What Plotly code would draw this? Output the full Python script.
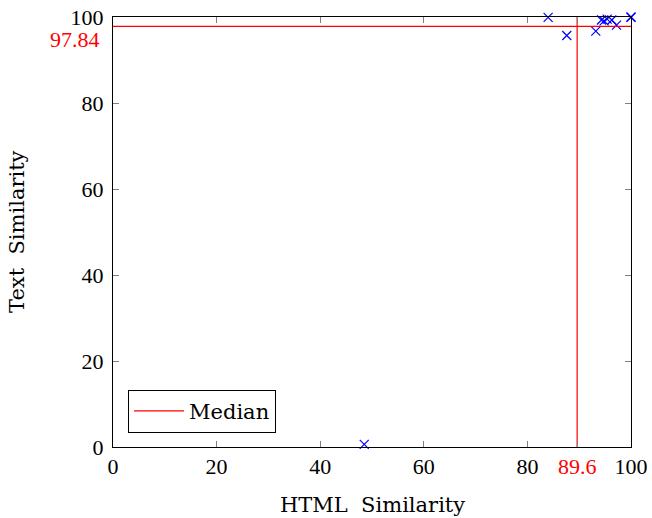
import plotly.graph_objects as go

html_similarity = [48.5, 84.0, 87.6, 93.2, 94.3, 94.8, 95.4, 96.3, 97.2, 100.0, 100.0]
text_similarity = [0.6, 99.9, 95.7, 96.7, 99.3, 99.1, 99.5, 99.3, 98.1, 100.0, 99.9]
median_html = 89.6
median_text = 97.84
tick_vals = [0, 20, 40, 60, 80, 100]

TICK_FONT = "Liberation Serif"
TEXT_FONT = "DejaVu Serif"
RED = "#ff0000"
BLUE = "#0000ff"

fig = go.Figure()
fig.add_trace(go.Scatter(
    x=html_similarity, y=text_similarity, mode="markers",
    marker=dict(symbol="x-thin", size=9, line=dict(width=1.2, color=BLUE), color=BLUE),
    showlegend=False, cliponaxis=False,
))
fig.add_trace(go.Scatter(
    x=[median_html, median_html, None, 0, 100],
    y=[0, 100, None, median_text, median_text],
    mode="lines", line=dict(color=RED, width=1.2), name="Median",
    showlegend=True,
))

x_ticks = tick_vals[:-1] + [median_html, tick_vals[-1]]
x_text = [str(v) for v in tick_vals[:-1]] + [f'<span style="color:{RED}">{median_html}</span>', str(tick_vals[-1])]

axis_common = dict(
    range=[0, 100], ticks="inside", ticklen=6, tickcolor="#808080", tickwidth=1,
    showline=True, linecolor="black", linewidth=1, mirror="ticks",
    showgrid=False, zeroline=False, automargin=False,
    tickfont=dict(family=TICK_FONT, size=22, color="black"),
)

fig.update_layout(
    width=652, height=518,
    margin=dict(l=113, r=21, t=17, b=71),
    paper_bgcolor="white", plot_bgcolor="white",
    font=dict(family=TEXT_FONT, size=21, color="black"),
    xaxis=dict(tickvals=x_ticks, ticktext=x_text, **axis_common),
    yaxis=dict(tickvals=tick_vals, ticklabelstandoff=4, **axis_common),
    legend=dict(
        x=0.029, y=0.033, xanchor="left", yanchor="bottom",
        bordercolor="black", borderwidth=1, bgcolor="white",
        font=dict(family=TEXT_FONT, size=21), itemwidth=50,
    ),
    annotations=[
        dict(x=0, xref="paper", y=median_text, yref="y",
             text=str(median_text), showarrow=False, xanchor="right",
             xshift=-11, yshift=-13, font=dict(family=TICK_FONT, color=RED, size=22)),
        dict(x=0.5, xref="paper", y=0, yref="paper", text="HTML  Similarity",
             showarrow=False, xanchor="center", yanchor="middle", yshift=-58,
             font=dict(family=TEXT_FONT, size=21)),
        dict(x=0, xref="paper", y=0.5, yref="paper", text="Text  Similarity",
             showarrow=False, xanchor="center", yanchor="middle", xshift=-96,
             textangle=-90, font=dict(family=TEXT_FONT, size=21)),
    ],
)

fig.write_html(
    "out.html",
    config={"displayModeBar": False},
    post_script="document.body.style.margin='0';document.body.style.padding='0';",
)
